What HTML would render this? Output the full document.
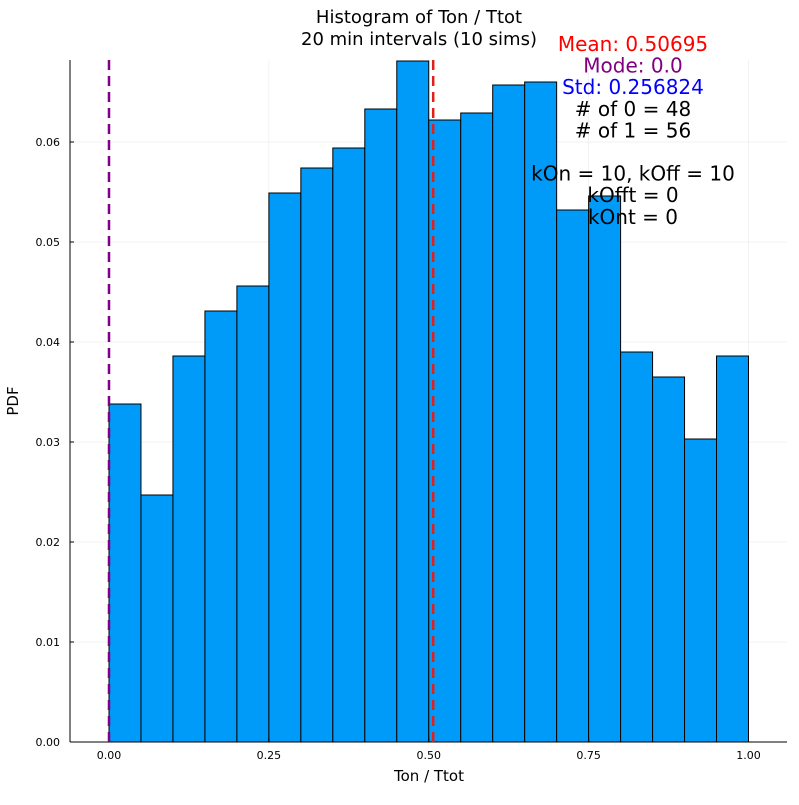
<!DOCTYPE html>
<html><head><meta charset="utf-8"><style>
body{margin:0;background:#fff}
svg{font-family:"DejaVu Sans","Liberation Sans",sans-serif}
</style></head><body>
<svg id="c" width="799" height="800"></svg>
<script>
const binStarts=[0,0.05,0.1,0.15,0.2,0.25,0.3,0.35,0.4,0.45,0.5,0.55,0.6,0.65,0.7,0.75,0.8,0.85,0.9,0.95];
const pdfValues=[0.0338,0.0247,0.0386,0.0431,0.0456,0.0549,0.0574,0.0594,0.0633,0.0681,0.0622,0.0629,0.0657,0.066,0.0532,0.0546,0.039,0.0365,0.0303,0.0386];
const xTicks=[0,0.25,0.5,0.75,1];
const xTickLabels=["0.00","0.25","0.50","0.75","1.00"];
const yTicks=[0,0.01,0.02,0.03,0.04,0.05,0.06];
const yTickLabels=["0.00","0.01","0.02","0.03","0.04","0.05","0.06"];
const meanValue=0.50695, modeValue=0.0;
const annotations=[["Mean: 0.50695","#f00"],["Mode: 0.0","#800080"],["Std: 0.256824","#00f"],["# of 0 = 48","#000"],["# of 1 = 56","#000"],["","#000"],["kOn = 10, kOff = 10","#000"],["kOfft = 0","#000"],["kOnt = 0","#000"]];
const binWidth=0.05;
const NS="http://www.w3.org/2000/svg";
const svg=document.getElementById('c');
const L=70,R=787,T=60,B=742;
const X=v=>109+v*639.5;
const Y=v=>742-v*10000;
function mk(t,a,p){const e=document.createElementNS(NS,t);for(const k in a)e.setAttribute(k,a[k]);(p||svg).appendChild(e);return e;}
yTicks.forEach(v=>{const g=mk('line',{x1:L,x2:R,y1:Y(v),y2:Y(v),stroke:'#000','stroke-opacity':0.1,'stroke-width':0.5});

});
xTicks.forEach(v=>{const g=mk('line',{x1:X(v),x2:X(v),y1:T,y2:B,stroke:'#000','stroke-opacity':0.1,'stroke-width':0.5});

});
binStarts.forEach((s,i)=>{const r=mk('rect',{x:X(s),y:Y(pdfValues[i]),width:X(s+binWidth)-X(s),height:Y(0)-Y(pdfValues[i]),fill:'#009af9',stroke:'#000','stroke-width':1});

});
let a=mk('line',{x1:L,x2:R,y1:B,y2:B,stroke:'#000'});
a=mk('line',{x1:L,x2:L,y1:T,y2:B,stroke:'#000'});
xTicks.forEach((v,i)=>{mk('line',{x1:X(v),x2:X(v),y1:B,y2:B-4,stroke:'#000'});
const t=mk('text',{x:X(v),y:B+17,'text-anchor':'middle','font-size':11});t.textContent=xTickLabels[i];

});
yTicks.forEach((v,i)=>{mk('line',{x1:L,x2:L+4,y1:Y(v),y2:Y(v),stroke:'#000'});
const t=mk('text',{x:L-10,y:Y(v)+4,'text-anchor':'end','font-size':11});t.textContent=yTickLabels[i];

});
a=mk('line',{x1:X(meanValue),x2:X(meanValue),y1:T,y2:B,stroke:'#e0201b','stroke-width':2.5,'stroke-dasharray':'10 6'});
a=mk('line',{x1:X(modeValue),x2:X(modeValue),y1:T,y2:B,stroke:'#800080','stroke-width':2.5,'stroke-dasharray':'10 6'});
let t=mk('text',{x:429,y:781,'text-anchor':'middle','font-size':15});t.textContent='Ton / Ttot';
t=mk('text',{x:18,y:401,'text-anchor':'middle','font-size':15,transform:'rotate(-90 18 401)'});t.textContent='PDF';
t=mk('text',{x:419,y:23,'text-anchor':'middle','font-size':18});t.textContent='Histogram of Ton / Ttot';
t=mk('text',{x:419,y:45,'text-anchor':'middle','font-size':18});t.textContent='20 min intervals (10 sims)';
annotations.forEach((an,i)=>{const e=mk('text',{x:633,y:51+i*21.6,'text-anchor':'middle','font-size':20,fill:an[1]});e.textContent=an[0];

});
</script>
</body></html>
